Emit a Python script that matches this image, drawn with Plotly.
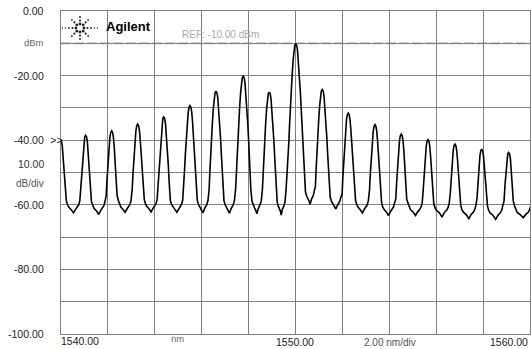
import numpy as np
import plotly.graph_objects as go

# ---- data (optical spectrum) ----
PEAK_NM = [1539.98, 1541.05, 1542.16, 1543.27, 1544.38, 1545.50, 1546.61, 1547.77,
           1548.88, 1550.01, 1551.14, 1552.25, 1553.39, 1554.51, 1555.65, 1556.80,
           1557.94, 1559.09, 1560.24]
PEAK_DBM = [-39.8, -38.5, -37.1, -35.0, -32.8, -29.3, -24.8, -20.2,
            -25.1, -10.1, -24.3, -31.6, -35.2, -38.1, -39.8, -41.2,
            -42.8, -43.8, -44.5]
# noise floor in the gap after each peak, and its deepest dip
VALLEY_FLOOR_DBM = [-61.3, -61.6, -61.2, -61.0, -61.2, -61.2, -61.3, -61.5, -61.8,
                    -58.6, -60.2, -61.3, -62.0, -62.0, -62.2, -62.8, -63.0, -62.8]
VALLEY_DIP_DBM = [-62.5, -63.0, -62.3, -62.2, -62.3, -62.5, -62.6, -62.8, -63.2,
                  -59.8, -61.3, -62.5, -63.3, -63.3, -63.8, -64.3, -64.5, -64.0]
# measured line shape: half width (nm) at a given drop below the peak (dB)
PROFILE_DROP_DB = [0.0, 0.5, 2.0, 5.0, 10.0, 15.0, 20.0, 25.0, 30.0, 35.0, 40.0, 45.0]
PROFILE_HALF_NM = [0.0, 0.04, 0.075, 0.11, 0.155, 0.197, 0.232, 0.262, 0.29, 0.325, 0.365, 0.41]
# rounded foot of each peak: extra half width (nm) beyond the profile, height above floor (dB)
FOOT_EXTRA_NM = [0.05, 0.1, 0.16]
FOOT_ABOVE_DB = [2.6, 1.3, 0.5]

Y_TICKS = [0, -20, -40, -60, -80, -100]
Y_TICK_TEXT = ["0.00", "-20.00", "-40.00", "-60.00", "-80.00", "-100.00"]
X_RANGE = [1540, 1560]
Y_RANGE = [-100, 0]
REF_DBM = -10

# ---- build trace ----
drop = np.array(PROFILE_DROP_DB)
hw = np.array(PROFILE_HALF_NM)
xs, ys = [], []
nv = len(VALLEY_FLOOR_DBM)
right_base = None
for i, (c, p) in enumerate(zip(PEAK_NM, PEAK_DBM)):
    fl = VALLEY_FLOOR_DBM[i - 1] if i > 0 else VALLEY_FLOOR_DBM[0]
    fr = VALLEY_FLOOR_DBM[i] if i < nv else VALLEY_FLOOR_DBM[-1]
    keep = p - drop > fl + 3.5
    hl, dl = hw[keep], drop[keep]
    left_base = c - hl[-1] - FOOT_EXTRA_NM[-1]
    if right_base is not None:
        a, b = right_base, left_base
        f = VALLEY_FLOOR_DBM[i - 1]
        xs += [a + (b - a) * 0.3, a + (b - a) * 0.55, a + (b - a) * 0.8]
        ys += [f - 0.3, VALLEY_DIP_DBM[i - 1], f - 0.1]
    for e, up in zip(FOOT_EXTRA_NM[::-1], FOOT_ABOVE_DB[::-1]):
        xs.append(c - hl[-1] - e)
        ys.append(fl + up)
    for h, d in zip(hl[::-1], dl[::-1]):
        xs.append(c - h)
        ys.append(p - d)
    keep = p - drop > fr + 3.5
    hr, dr = hw[keep], drop[keep]
    for h, d in zip(hr[1:], dr[1:]):
        xs.append(c + h)
        ys.append(p - d)
    for e, up in zip(FOOT_EXTRA_NM, FOOT_ABOVE_DB):
        xs.append(c + hr[-1] + e)
        ys.append(fr + up)
    right_base = c + hr[-1] + FOOT_EXTRA_NM[-1]

W, H = 531, 349
L, R, T, B = 61, 1, 11, 15
PW, PH = W - L - R, H - T - B


def px(x):
    return (x - L) / PW


def py(y):
    return (H - B - y) / PH


fig = go.Figure()
fig.add_trace(go.Scatter(x=xs, y=ys, mode="lines",
                         line=dict(color="#000000", width=1.6),
                         hoverinfo="skip", showlegend=False))

FONT = "Liberation Sans, Arial, sans-serif"
ann = []
for v, t in zip(Y_TICKS, Y_TICK_TEXT):
    ann.append(dict(x=px(46), xref="paper", y=v, yref="y", text=t, showarrow=False,
                    xanchor="right", yanchor="middle",
                    font=dict(family=FONT, size=10.5, color="#222222")))
ann += [
    dict(x=px(46), xref="paper", y=-9.9, yref="y", text="dBm", showarrow=False,
         xanchor="right", yanchor="middle", font=dict(family=FONT, size=9.5, color="#666666")),
    dict(x=px(46), xref="paper", y=-47.5, yref="y", text="10.00", showarrow=False,
         xanchor="right", yanchor="middle", font=dict(family=FONT, size=10.5, color="#333333")),
    dict(x=px(46), xref="paper", y=-53.4, yref="y", text="dB/div", showarrow=False,
         xanchor="right", yanchor="middle", font=dict(family=FONT, size=10, color="#555555")),
    dict(x=px(48), xref="paper", y=-40, yref="y", text="&gt;&gt;", showarrow=False,
         xanchor="left", yanchor="middle", font=dict(family=FONT, size=11, color="#222222")),
    dict(x=px(59), xref="paper", y=py(341), yref="paper", text="1540.00", showarrow=False,
         xanchor="left", yanchor="middle", font=dict(family=FONT, size=10.5, color="#222222")),
    dict(x=px(177), xref="paper", y=py(338), yref="paper", text="nm", showarrow=False,
         xanchor="center", yanchor="middle", font=dict(family=FONT, size=9.5, color="#666666")),
    dict(x=px(295), xref="paper", y=py(341.5), yref="paper", text="1550.00", showarrow=False,
         xanchor="center", yanchor="middle", font=dict(family=FONT, size=10.5, color="#222222")),
    dict(x=px(390), xref="paper", y=py(342), yref="paper", text="2.00 nm/div", showarrow=False,
         xanchor="center", yanchor="middle", font=dict(family=FONT, size=10, color="#555555")),
    dict(x=px(530), xref="paper", y=py(341.5), yref="paper", text="1560.00", showarrow=False,
         xanchor="right", yanchor="middle", font=dict(family=FONT, size=10.5, color="#222222")),
    dict(x=px(180), xref="paper", y=py(35), yref="paper", text="REF: -10.00 dBm", showarrow=False,
         xanchor="left", yanchor="middle", font=dict(family=FONT, size=10, color="#a8a8a8")),
    dict(x=px(104), xref="paper", y=py(26.5), yref="paper", text="<b>Agilent</b>", showarrow=False,
         xanchor="left", yanchor="middle", font=dict(family=FONT, size=13, color="#000000")),
]

shapes = [dict(type="line", xref="paper", x0=0, x1=1, yref="y", y0=REF_DBM, y1=REF_DBM,
               line=dict(color="#bdbdbd", width=2, dash="10px,3px"), layer="below")]

# Agilent spark logo (decoration)
cx, cy = 80.0, 28.0
rays = [(1, 0, [4, 7.5, 11, 14.5, 17.5]), (-1, 0, [4, 7.5, 11, 14.5, 17.5]),
        (0, 1, [4, 7.5, 11]), (0, -1, [4, 7.5, 11]),
        (0.707, 0.707, [4.5, 8, 11.5]), (-0.707, 0.707, [4.5, 8, 11.5]),
        (0.707, -0.707, [4.5, 8, 11.5]), (-0.707, -0.707, [4.5, 8, 11.5])]
sizes = [1.4, 1.1, 0.9, 0.75, 0.65]
for dx, dy, rr in rays:
    for k, r in enumerate(rr):
        s = sizes[k]
        x, y = cx + dx * r, cy + dy * r
        shapes.append(dict(type="circle", xref="paper", yref="paper",
                           x0=px(x - s), x1=px(x + s), y0=py(y + s), y1=py(y - s),
                           fillcolor="#222222", line=dict(width=0), layer="above"))

axis_common = dict(showgrid=True, gridcolor="#808080", gridwidth=1, zeroline=False,
                   showline=True, linecolor="#808080", linewidth=1, mirror=True,
                   ticks="", showticklabels=False)
fig.update_layout(
    width=W, height=H,
    margin=dict(l=L, r=R, t=T, b=B, pad=0),
    paper_bgcolor="#ffffff", plot_bgcolor="#ffffff",
    xaxis=dict(range=X_RANGE, dtick=2, tick0=1540, **axis_common),
    yaxis=dict(range=Y_RANGE, dtick=10, tick0=0, **axis_common),
    annotations=ann, shapes=shapes, showlegend=False,
)
fig.write_html("out.html", config={"displayModeBar": False},
               post_script="document.body.style.margin='0px';document.body.style.overflow='hidden';")
